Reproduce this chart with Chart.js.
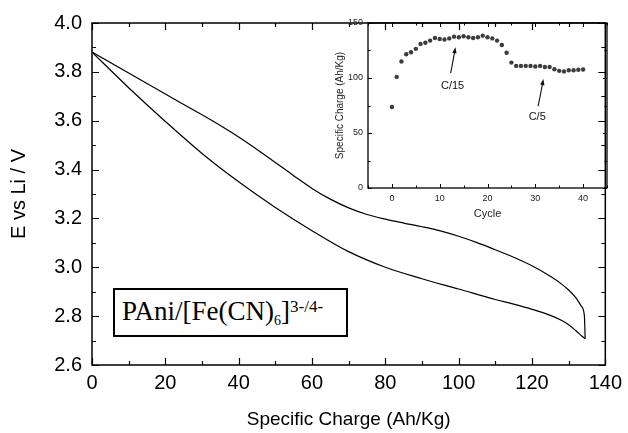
<!DOCTYPE html>
<html>
<head>
<meta charset="utf-8">
<script src="https://cdn.jsdelivr.net/npm/chart.js@4.4.1/dist/chart.umd.min.js"></script>
<style>
  html, body { margin: 0; padding: 0; background: #fff; }
  #wrap { position: relative; width: 628px; height: 433px; overflow: hidden; }
  #main { position: absolute; left: 0; top: 0; }
  #inset { position: absolute; left: 300px; top: 0; }
  #label {
    position: absolute; left: 113px; top: 288px; width: 231px; height: 45px;
    border: 2px solid #000; background: #fff;
    font-family: "Liberation Serif", "Times New Roman", serif; font-size: 27px; color: #000;
  }
  #label .t { position: absolute; left: 7px; top: 6px; white-space: nowrap; line-height: 1.15; }
  #label sub { font-size: 14px; vertical-align: -5px; line-height: 0; }
  #label sup { font-size: 17px; vertical-align: 8px; line-height: 0; }
</style>
</head>
<body>
<div id="wrap">
  <canvas id="main" width="628" height="433"></canvas>
  <canvas id="inset" width="328" height="230"></canvas>
  <div id="label"><span class="t">PAni/[Fe(CN)<sub>6</sub>]<sup>3-/4-</sup></span></div>
</div>
<script>
'use strict';

// ── Main plot: potential vs specific charge ───────────────────────────────
const upperQ = [0, 10, 20, 30, 35, 40, 45, 50, 55, 60, 65, 70, 75, 80, 85, 90, 95, 100, 105, 110, 115, 120, 125, 128, 130, 132, 133.5, 134.3, 134.5];
const upperE = [3.881, 3.795, 3.709, 3.624, 3.580, 3.533, 3.482, 3.429, 3.375, 3.323, 3.279, 3.243, 3.216, 3.197, 3.181, 3.166, 3.149, 3.127, 3.101, 3.072, 3.041, 3.006, 2.963, 2.932, 2.907, 2.875, 2.840, 2.800, 2.707];
const lowerQ = [0, 10, 20, 30, 40, 50, 60, 70, 80, 90, 100, 110, 115, 120, 125, 128, 130, 132, 133.5, 134.5];
const lowerE = [3.881, 3.735, 3.597, 3.466, 3.350, 3.245, 3.150, 3.064, 3.000, 2.953, 2.911, 2.868, 2.849, 2.828, 2.803, 2.783, 2.765, 2.740, 2.720, 2.707];
const chargeTicks = [0, 20, 40, 60, 80, 100, 120, 140];
const voltTicks   = [2.6, 2.8, 3.0, 3.2, 3.4, 3.6, 3.8, 4.0];

// ── Inset: specific charge vs cycle ───────────────────────────────────────
const cycles = [0, 1, 2, 3, 4, 5, 6, 7, 8, 9, 10, 11, 12, 13, 14, 15, 16, 17, 18, 19, 20,
                21, 22, 23, 24, 25, 26, 27, 28, 29, 30, 31, 32, 33, 34, 35, 36, 37, 38, 39, 40];
const cycleCharge = [73.6, 101, 115, 121.6, 123.4, 126.5, 131, 132, 134, 136.4, 135.5, 135, 136, 137.6, 137, 138, 137, 136.4, 137, 138.5, 137,
                     136, 134, 130, 123, 114, 111, 111, 111, 111, 110.5, 111, 110, 110, 108, 106.5, 106, 107, 107, 107.5, 107.7];
const cycleTicks = [0, 10, 20, 30, 40];
const insetTicks = [0, 50, 100, 150];

const FONT = '"Liberation Sans", Arial, sans-serif';
const toXY = (xs, ys) => xs.map((x, i) => ({ x, y: ys[i] }));
const fixTicks = vals => scale => { scale.ticks = vals.map(v => ({ value: v })); };

// Box frame with inward major/minor ticks, drawn from the chart's own scales
const framePlugin = {
  id: 'frame',
  afterDraw(chart, args, o) {
    const { ctx, chartArea: a, scales: { x, y } } = chart;
    ctx.save();
    ctx.strokeStyle = '#000';
    ctx.lineWidth = o.width;
    ctx.strokeRect(a.left, a.top, a.right - a.left, a.bottom - a.top);
    ctx.lineWidth = o.tickWidth;
    ctx.beginPath();
    const isMajor = (v, list) => list.some(t => Math.abs(t - v) < 1e-6);
    for (let v = x.min; v <= x.max + 1e-6; v += o.xMinor) {
      const px = Math.round(x.getPixelForValue(v)) + 0.5;
      const len = isMajor(v, o.xMajor) ? o.major : o.minor;
      ctx.moveTo(px, a.bottom); ctx.lineTo(px, a.bottom - len);
      ctx.moveTo(px, a.top);    ctx.lineTo(px, a.top + len);
    }
    for (let v = y.min; v <= y.max + 1e-6; v += o.yMinor) {
      const py = Math.round(y.getPixelForValue(v)) + 0.5;
      const len = isMajor(v, o.yMajor) ? o.major : o.minor;
      ctx.moveTo(a.left, py);  ctx.lineTo(a.left + len, py);
      ctx.moveTo(a.right, py); ctx.lineTo(a.right - len, py);
    }
    ctx.stroke();
    ctx.restore();
  },
};

// Rate annotations on the inset (text + arrow, in data coordinates)
const insetNotes = [
  { text: 'C/15', tx: 12.7, ty: 92.7, from: [12.3, 104.5], to: [13.3, 128] },
  { text: 'C/5',  tx: 30.4, ty: 64.5, from: [30.6, 74.5],  to: [31.7, 99] },
];
const notePlugin = {
  id: 'notes',
  afterDatasetsDraw(chart) {
    const { ctx, scales: { x, y } } = chart;
    ctx.save();
    ctx.fillStyle = '#111'; ctx.strokeStyle = '#111'; ctx.lineWidth = 1.1;
    ctx.font = '11px ' + FONT; ctx.textAlign = 'center'; ctx.textBaseline = 'middle';
    insetNotes.forEach(n => {
      ctx.fillText(n.text, x.getPixelForValue(n.tx), y.getPixelForValue(n.ty));
      const x0 = x.getPixelForValue(n.from[0]), y0 = y.getPixelForValue(n.from[1]);
      const x1 = x.getPixelForValue(n.to[0]),   y1 = y.getPixelForValue(n.to[1]);
      const ang = Math.atan2(y1 - y0, x1 - x0);
      const c = Math.cos(ang), s = Math.sin(ang);
      ctx.beginPath(); ctx.moveTo(x0, y0); ctx.lineTo(x1 - 4 * c, y1 - 4 * s); ctx.stroke();
      ctx.beginPath();
      ctx.moveTo(x1, y1);
      ctx.lineTo(x1 - 6 * c + 2.2 * s, y1 - 6 * s - 2.2 * c);
      ctx.lineTo(x1 - 6 * c - 2.2 * s, y1 - 6 * s + 2.2 * c);
      ctx.closePath(); ctx.fill();
    });
    ctx.restore();
  },
};

const lineSet = data => ({
  data, showLine: true, borderColor: '#000', borderWidth: 1.2,
  pointRadius: 0, cubicInterpolationMode: 'monotone', fill: false,
});

new Chart(document.getElementById('main'), {
  type: 'scatter',
  data: { datasets: [lineSet(toXY(upperQ, upperE)), lineSet(toXY(lowerQ, lowerE))] },
  options: {
    responsive: false, animation: false,
    layout: { padding: { top: 23, right: 22, left: 0, bottom: 0 } },
    plugins: {
      legend: { display: false }, tooltip: { enabled: false },
      frame: { width: 1.5, tickWidth: 1.2, major: 7, minor: 4, xMinor: 10, yMinor: 0.1, xMajor: chargeTicks, yMajor: voltTicks },
    },
    scales: {
      x: {
        type: 'linear', min: 0, max: 140,
        afterBuildTicks: fixTicks(chargeTicks),
        afterFit: s => { s.height = 68; },
        grid: { display: false, tickLength: 0 }, border: { display: false },
        ticks: { padding: 6, color: '#000', font: { family: FONT, size: 20 } },
        title: { display: true, text: 'Specific Charge (Ah/Kg)', color: '#000', padding: { top: 2, bottom: 2 }, font: { family: FONT, size: 19 } },
      },
      y: {
        type: 'linear', min: 2.6, max: 4.0,
        afterBuildTicks: fixTicks(voltTicks),
        afterFit: s => { s.width = 92; },
        grid: { display: false, tickLength: 0 }, border: { display: false },
        ticks: { padding: 10, color: '#000', font: { family: FONT, size: 20 }, callback: v => v.toFixed(1) },
        title: { display: true, text: 'E vs Li / V', color: '#000', padding: { top: 7, bottom: 7 }, font: { family: FONT, size: 20 } },
      },
    },
  },
  plugins: [framePlugin],
});

new Chart(document.getElementById('inset'), {
  type: 'scatter',
  data: { datasets: [{
    data: toXY(cycles, cycleCharge),
    pointRadius: 2.2, pointBackgroundColor: '#3c3c3c', pointBorderWidth: 0, showLine: false,
  }] },
  options: {
    responsive: false, animation: false,
    layout: { padding: { top: 23, right: 21, left: 0, bottom: 0 } },
    plugins: {
      legend: { display: false }, tooltip: { enabled: false },
      frame: { width: 1.3, tickWidth: 1, major: 4, minor: 2.5, xMinor: 5, yMinor: 25, xMajor: cycleTicks, yMajor: insetTicks },
    },
    scales: {
      x: {
        type: 'linear', min: -5, max: 45,
        afterBuildTicks: fixTicks(cycleTicks),
        afterFit: s => { s.height = 42; },
        grid: { display: false, tickLength: 0 }, border: { display: false },
        ticks: { padding: 5, color: '#222', font: { family: FONT, size: 9 } },
        title: { display: true, text: 'Cycle', color: '#222', padding: { top: 9, bottom: 9 }, font: { family: FONT, size: 11 } },
      },
      y: {
        type: 'linear', min: 0, max: 150,
        afterBuildTicks: fixTicks(insetTicks),
        afterFit: s => { s.width = 68; },
        grid: { display: false, tickLength: 0 }, border: { display: false },
        ticks: { padding: 5, color: '#222', font: { family: FONT, size: 9 } },
        title: { display: true, text: 'Specific Charge (Ah/Kg)', color: '#222', padding: { top: 34, bottom: 2 }, font: { family: FONT, size: 10 } },
      },
    },
  },
  plugins: [framePlugin, notePlugin],
});
</script>
</body>
</html>
